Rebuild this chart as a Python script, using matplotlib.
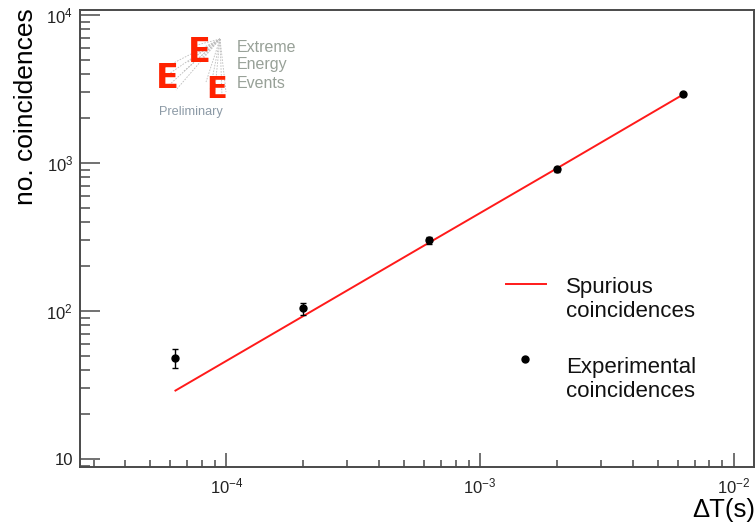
import numpy as np
import matplotlib
matplotlib.use("Agg")
import matplotlib.pyplot as plt
from matplotlib.ticker import LogLocator, NullFormatter, FuncFormatter
from matplotlib.lines import Line2D

plt.rcParams['font.family'] = ['Liberation Sans', 'DejaVu Sans']
plt.rcParams['mathtext.fontset'] = 'custom'
plt.rcParams['mathtext.rm'] = 'Liberation Sans'
plt.rcParams['mathtext.it'] = 'Liberation Sans:italic'

# ---- data ----
delta_t = [6.3e-5, 2.0e-4, 6.3e-4, 2.0e-3, 6.3e-3]
exp_counts = [48, 104, 300, 906, 2910]
exp_err = [7, 10, 17, 30, 54]
spurious_counts = [29, 92, 290, 917, 2900]
legend_labels = ["Spurious\ncoincidences", "Experimental\ncoincidences"]
x_title = "ΔT(s)"
y_title = "no. coincidences"
logo_lines = ["Extreme", "Energy", "Events"]
logo_note = "Preliminary"

W, H = 756, 527
fig = plt.figure(figsize=(W / 100, H / 100), dpi=100)
L, R, T, B = 80, 754, 9.5, 466.7
ax = fig.add_axes([L / W, 1 - B / H, (R - L) / W, (B - T) / H])

ax.set_xscale('log')
ax.set_yscale('log')
ax.set_xlim(2.65e-5, 1.2e-2)
ax.set_ylim(8.87, 1.09e4)

ax.plot(delta_t, spurious_counts, color='#ff1a1a', lw=1.4, zorder=2)
ax.errorbar(delta_t, exp_counts, yerr=exp_err, fmt='o', color='black',
            ms=5, elinewidth=1.0, capsize=2.2, capthick=1.0, zorder=3)

spine_c = '#4a4a4a'
for s in ax.spines.values():
    s.set_color(spine_c)
    s.set_linewidth(1.4)

def log_fmt(v, pos):
    e = int(round(np.log10(v)))
    if e == 1:
        return "10"
    return r"$\mathdefault{10^{%d}}$" % e

ax.xaxis.set_major_locator(LogLocator(base=10, numticks=20))
ax.xaxis.set_minor_locator(LogLocator(base=10, subs=np.arange(2, 10), numticks=20))
ax.yaxis.set_major_locator(LogLocator(base=10, numticks=20))
ax.yaxis.set_minor_locator(LogLocator(base=10, subs=np.arange(2, 10), numticks=20))
ax.xaxis.set_major_formatter(FuncFormatter(log_fmt))
ax.yaxis.set_major_formatter(FuncFormatter(log_fmt))
ax.xaxis.set_minor_formatter(NullFormatter())
ax.yaxis.set_minor_formatter(NullFormatter())

ax.tick_params(axis='both', which='both', direction='in', top=False, right=False,
               color=spine_c, width=1.1, labelcolor='#222222', labelsize=12)
ax.tick_params(axis='x', which='major', length=10, pad=7)
ax.tick_params(axis='x', which='minor', length=5)
ax.tick_params(axis='y', which='major', length=14.4, pad=5)
ax.tick_params(axis='y', which='minor', length=7.2)

# axis titles
fig.text(33 / W, 1 - 8 / H, y_title, rotation=90, rotation_mode='anchor',
         ha='right', va='baseline', fontsize=19, color='black')
fig.text(755 / W, 1 - 517 / H, x_title, ha='right', va='baseline',
         fontsize=18.5, color='black')

# legend (manual, handles aligned with first line of each label)
def ax_xy(px, py):
    return ((px - L) / (R - L), (B - py) / (B - T))

x0, y0 = ax_xy(506, 284)
x1, _ = ax_xy(546, 284)
ax.add_line(Line2D([x0, x1], [y0, y0], transform=ax.transAxes, color='#ff1a1a',
                   lw=1.4, clip_on=False))
tx, ty = ax_xy(566, 316.7)
ax.text(tx, ty, legend_labels[0], transform=ax.transAxes, ha='left', va='baseline',
        fontsize=16, color='#111111', linespacing=1.2)
mx, my = ax_xy(525, 359)
ax.add_line(Line2D([mx], [my], transform=ax.transAxes, marker='o', ms=5,
                   color='black', lw=0, clip_on=False))
tx, ty = ax_xy(566, 396.7)
ax.text(tx, ty, legend_labels[1], transform=ax.transAxes, ha='left', va='baseline',
        fontsize=16, color='#111111', linespacing=1.2)

# logo
def fxy(px, py):
    return (px / W, 1 - py / H)

apex = (220, 39)
targets = [(160, 70), (163, 78), (168, 86), (176, 90), (183, 72), (188, 62),
           (193, 55), (200, 60), (206, 82), (210, 90), (214, 98), (222, 96),
           (226, 92), (197, 45)]
for tx_, ty_ in targets:
    a = fxy(*apex)
    b = fxy(tx_, ty_)
    fig.add_artist(Line2D([a[0], b[0]], [a[1], b[1]], color='#bdbdbd', lw=0.6,
                          ls=(0, (2, 1.5))))
for (px, py, sz) in [(199, 52, 24), (167, 79, 24), (217, 89, 22)]:
    fx, fy = fxy(px, py)
    fig.text(fx, fy, "E", color='#ff2200', fontsize=sz, fontweight='bold',
             ha='center', va='center', family='DejaVu Sans')
for i, s in enumerate(logo_lines):
    fx, fy = fxy(237, 47 + 18 * i)
    fig.text(fx, fy, s, color='#98a198', fontsize=11.5, ha='left', va='center')
fx, fy = fxy(191, 112)
fig.text(fx, fy, logo_note, color='#8c9aa6', fontsize=9.2, ha='center', va='center')

fig.savefig('out.png', dpi=100)
